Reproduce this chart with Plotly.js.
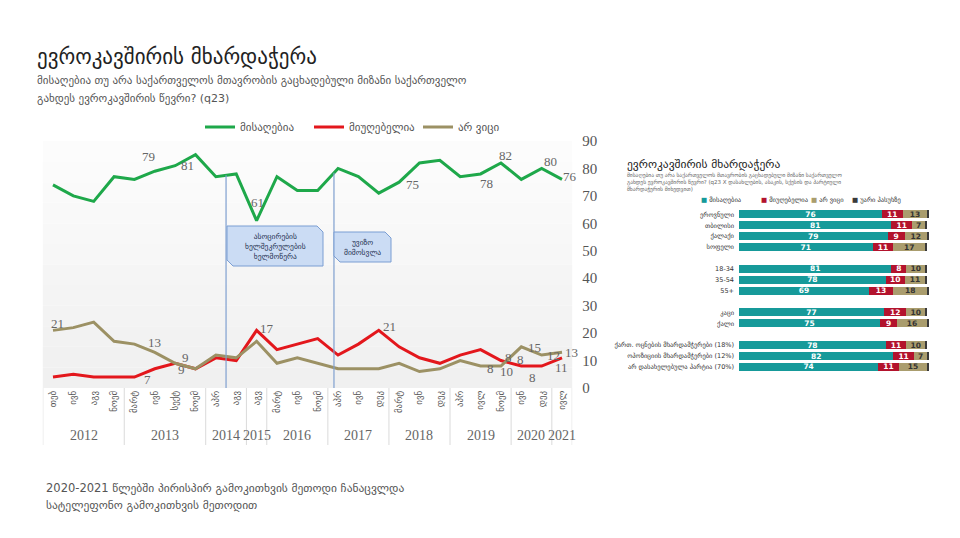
<!DOCTYPE html>
<html><head><meta charset="utf-8">
<script src="https://cdn.plot.ly/plotly-3.0.1.min.js"></script>
<style>html,body{margin:0;padding:0;background:#fff;}#chart{width:960px;height:538px;}</style>
</head><body><div id="chart"></div>
<script>
// ---------- DATA ----------
const periods = ['თებ','ივნ','აგვ','ნოემ','მარტ','ივნ','სექტ','ნოემ','აპრ','აგვ','აგვ','მარტ','ივნ','ნოემ','აპრ','ივნ','დეკ','მარტ','ივნ','დეკ','აპრ','ივლ','ნოემ','ივნ','დეკ','ივლ'];
const years = ['2012','2013','2014','2015','2016','2017','2018','2019','2020','2021'];
const yearCounts = [4,4,2,1,3,3,3,3,2,1];
const seriesNames = ['მისაღებია','მიუღებელია','არ ვიცი'];
const acceptable   = [74,70,68,77,76,79,81,85,77,78,61,77,72,72,80,77,71,75,82,83,77,78,82,76,80,76];
const unacceptable = [4,5,4,4,4,7,9,7,11,10,21,14,16,18,12,16,21,15,11,9,12,14,10,8,8,11];
const dontKnow     = [21,22,24,17,16,13,9,7,12,11,17,9,11,9,7,7,7,9,6,7,10,8,8,15,12,13];
const acceptableLabels   = {5:'79',6:'81',10:'61',17:'75',21:'78',22:'82',24:'80',25:'76'};
const unacceptableLabels = {5:'7',6:'9',10:'17',16:'21',22:'10',23:'8',24:'8',25:'11'};
const dontKnowLabels     = {0:'21',5:'13',6:'9',21:'8',22:'8',23:'15',24:'12',25:'13'};
const eventPositions = [8.5, 13.8];
const eventTexts = ['ასოცირების<br>ხელშეკრულების<br>ხელმოწერა','უვიზო<br>მიმოსვლა'];

const rowGroups = [
  ['ეროვნული','თბილისი','ქალაქი','სოფელი'],
  ['18-34','35-54','55+'],
  ['კაცი','ქალი'],
  ['ქართ. ოცნების მხარდამჭერები (18%)','ოპოზიციის მხარდამჭერები (12%)','არ დასახელებულა პარტია (70%)']
];
const rowAcceptable   = [76,81,79,71,81,78,69,77,75,78,82,74];
const rowUnacceptable = [11,11,9,11,8,10,13,12,9,11,11,11];
const rowDontKnow     = [13,7,12,17,10,11,18,10,16,10,7,15];
const rowRefuse       = [1,1,1,1,1,1,1,1,1,1,1,1];
const rowSeriesNames = ['მისაღებია','მიუღებელია','არ ვიცი','უარი პასუხზე'];

// ---------- STYLE ----------
const W = 960, H = 538;
const px = v => v / W, py = v => 1 - v / H;
const GEO = 'DejaVu Sans, Noto Sans, sans-serif';
const SERIF = 'Liberation Serif, DejaVu Serif, serif';
const lineColors = ['#1ea84a','#e3171c','#9c9164'];
const barColors = ['#169a9a','#b3132d','#aa9d6e','#3a3a3a'];
const labelOffsets = [
  {5:[-6,15],6:[12,0],10:[1,18],17:[13,-2],21:[6,-10],22:[5,7],24:[9,7],25:[8,3]},
  {5:[-7,-11],6:[6,-6],10:[10,2],16:[11,4],22:[6,-11],23:[-1,7],24:[-9,-11],25:[-1,-10]},
  {0:[5,7],5:[0,10],6:[10,6],21:[10,-2],22:[8,9],23:[13,-1],24:[12,0],25:[9,0]}
];
const boxGeom = [{x0:227,x1:323,y0:226,y1:266,tx:275,ty:246},{x0:334,x1:391,y0:232,y1:262,tx:362,ty:247}];

const idx = periods.map((_, i) => i);
const series = [acceptable, unacceptable, dontKnow];
const traces = series.map((vals, s) => ({
  type:'scatter', mode:'lines', x: idx, y: vals, name: seriesNames[s],
  line:{color: lineColors[s], width:3}, xaxis:'x', yaxis:'y', hoverinfo:'skip'
}));

// right chart
const gapKeys = ['gap1','gap2','gap3'];
const catArray = [];
rowGroups.forEach((g, i) => { catArray.push(...g); if (i < gapKeys.length) catArray.push(gapKeys[i]); });
const rowLabels = rowGroups.flat();
const rowSeries = [rowAcceptable, rowUnacceptable, rowDontKnow, rowRefuse];
const textColors = ['#ffffff','#ffffff','#333333','#ffffff'];
rowSeries.forEach((vals, s) => traces.push({
  type:'bar', orientation:'h', x: vals, y: rowLabels, name: rowSeriesNames[s],
  xaxis:'x2', yaxis:'y2', marker:{color: barColors[s]}, showlegend:false,
  text: s < 3 ? vals.map(String) : vals.map(() => ''), textposition:'inside', insidetextanchor:'middle',
  textangle:0, constraintext:'none', textfont:{family:'DejaVu Sans', size:7.5, color: textColors[s], weight:'bold'},
  hoverinfo:'skip'
}));

const shapes = [];
const annotations = [];
// plot-area gradient background
const nBands = 12;
for (let i = 0; i < nBands; i++) {
  const c = Math.round(252 - (i / (nBands - 1)) * 12);
  shapes.push({type:'rect', xref:'x domain', yref:'y domain', x0:0, x1:1, y0:1 - (i + 1) / nBands, y1:1 - i / nBands,
    fillcolor:`rgb(${c},${c},${c})`, line:{width:0}, layer:'below'});
}
// year separators & year labels
let start = 0;
const bounds = [-0.5];
yearCounts.forEach((n, i) => {
  annotations.push({xref:'x', yref:'paper', x: start + (n - 1) / 2, y: py(436), text: years[i], showarrow:false,
    font:{family:SERIF, size:14, color:'#666'}, yanchor:'middle'});
  start += n; bounds.push(start - 0.5);
});
bounds.forEach(b => shapes.push({type:'line', xref:'x', yref:'paper', x0:b, x1:b, y0:py(388), y1:py(445), line:{color:'#dadada', width:1}}));
// event lines
eventPositions.forEach(p => {
  const f = Math.floor(p), c = Math.ceil(p);
  const top = acceptable[f] + (p - f) * (acceptable[c] - acceptable[f]);
  shapes.push({type:'line', xref:'x', yref:'y', x0:p, x1:p, y0:0, y1:top, line:{color:'#7f9fcf', width:1.2}});
});
// event boxes
boxGeom.forEach((b, i) => {
  const c = 6;
  const pts = [[b.x0,b.y0],[b.x1-c,b.y0],[b.x1,b.y0+c],[b.x1,b.y1],[b.x0+c,b.y1],[b.x0,b.y1-c]];
  shapes.push({type:'path', xref:'paper', yref:'paper',
    path:'M' + pts.map(p => px(p[0]) + ',' + py(p[1])).join(' L') + ' Z',
    fillcolor:'#cbdcf4', line:{color:'#7b9ed3', width:1}});
  annotations.push({xref:'paper', yref:'paper', x:px(b.tx), y:py(b.ty), text:eventTexts[i], showarrow:false,
    font:{family:GEO, size:7.5, color:'#1f3050'}, align:'center', xanchor:'center', yanchor:'middle'});
});
// data labels
const labelSets = [acceptableLabels, unacceptableLabels, dontKnowLabels];
labelSets.forEach((set, s) => Object.keys(set).forEach(k => {
  const o = labelOffsets[s][k];
  annotations.push({xref:'x', yref:'y', x:+k, y: series[s][+k], text:set[k], showarrow:false,
    xshift:o[0], yshift:o[1], font:{family:SERIF, size:13, color:'#666'}});
}));
// titles
annotations.push({xref:'paper', yref:'paper', x:px(35), y:py(57), text:'ევროკავშირის მხარდაჭერა', showarrow:false, xanchor:'left', yanchor:'middle', font:{family:GEO, size:21, color:'#222'}});
annotations.push({xref:'paper', yref:'paper', x:px(35), y:py(80), text:'მისაღებია თუ არა საქართველოს მთავრობის გაცხადებული მიზანი საქართველო', showarrow:false, xanchor:'left', yanchor:'middle', font:{family:GEO, size:11, color:'#555'}});
annotations.push({xref:'paper', yref:'paper', x:px(35), y:py(98), text:'გახდეს ევროკავშირის წევრი? (q23)', showarrow:false, xanchor:'left', yanchor:'middle', font:{family:GEO, size:11, color:'#555'}});
annotations.push({xref:'paper', yref:'paper', x:px(44), y:py(488), text:'2020-2021 წლებში პირისპირ გამოკითხვის მეთოდი ჩანაცვლდა', showarrow:false, xanchor:'left', yanchor:'middle', font:{family:GEO, size:11.5, color:'#555'}});
annotations.push({xref:'paper', yref:'paper', x:px(44), y:py(505), text:'სატელეფონო გამოკითხვის მეთოდით', showarrow:false, xanchor:'left', yanchor:'middle', font:{family:GEO, size:11.5, color:'#555'}});
// right chart title, subtitle, legend
annotations.push({xref:'paper', yref:'paper', x:px(625), y:py(164), text:'ევროკავშირის მხარდაჭერა', showarrow:false, xanchor:'left', yanchor:'middle', font:{family:GEO, size:11.5, color:'#222'}});
['მისაღებია თუ არა საქართველოს მთავრობის გაცხადებული მიზანი საქართველო',
 'გახდეს ევროკავშირის წევრი? (q23 X დასახლების, ასაკის, სქესის და პარტიული',
 'მხარდაჭერის მიხედვით)'].forEach((t, i) => annotations.push({xref:'paper', yref:'paper', x:px(625), y:py(175 + i * 7.2), text:t, showarrow:false, xanchor:'left', yanchor:'middle', font:{family:GEO, size:5.5, color:'#666'}}));
const legX = [699, 759, 809, 850];
rowSeriesNames.forEach((n, i) => annotations.push({xref:'paper', yref:'paper', x:px(legX[i]), y:py(200), showarrow:false, xanchor:'left', yanchor:'middle',
  text:`<span style="color:${barColors[i]}">■</span> ${n}`, font:{family:GEO, size:6.5, color:'#333'}}));

const layout = {
  width:W, height:H, margin:{l:0, r:0, t:0, b:0}, paper_bgcolor:'#fff', plot_bgcolor:'rgba(0,0,0,0)',
  font:{family:GEO}, barmode:'stack', bargap:0.27,
  xaxis:{domain:[px(42.8), px(572.2)], range:[-0.5, 25.5], tickmode:'array', tickvals:idx, ticktext:periods, tickangle:-90,
    tickfont:{family:GEO, size:9, color:'#555'}, showgrid:false, zeroline:false, showline:false, ticks:'', fixedrange:true},
  yaxis:{domain:[py(388), py(141)], range:[0, 90], side:'right', tickmode:'array', tickvals:[0,10,20,30,40,50,60,70,80,90],
    tickfont:{family:SERIF, size:15, color:'#555'}, showgrid:false, zeroline:false, showline:false, ticks:'', ticklabelstandoff:9},
  xaxis2:{domain:[px(739), px(929)], range:[0, 101], anchor:'y2', showticklabels:false, showgrid:false, zeroline:false, showline:false},
  yaxis2:{domain:[py(372.4), py(208.9)], anchor:'x2', type:'category', categoryarray:catArray, categoryorder:'array', autorange:'reversed',
    tickmode:'array', tickvals:rowLabels, ticktext:rowLabels, tickfont:{family:GEO, size:6.5, color:'#333'}, showgrid:false, zeroline:false, showline:false, ticks:'', ticklabelstandoff:4},
  showlegend:true,
  legend:{orientation:'h', traceorder:'normal', x:px(200), xanchor:'left', y:py(127), yanchor:'middle', font:{family:GEO, size:11, color:'#555'},
    bgcolor:'rgba(0,0,0,0)', entrywidth:64, itemwidth:30},
  shapes:shapes, annotations:annotations
};
Plotly.newPlot('chart', traces, layout, {staticPlot:true, displayModeBar:false});
</script></body></html>
